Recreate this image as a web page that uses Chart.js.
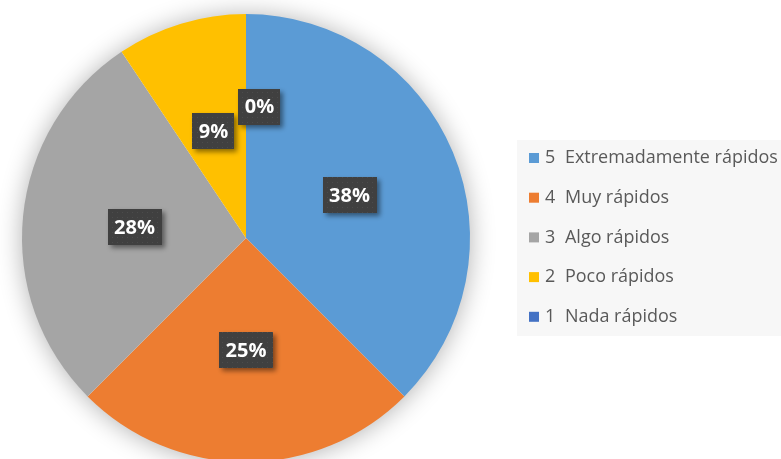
<!DOCTYPE html>
<html>
<head>
<meta charset="utf-8">
<script src="https://cdn.jsdelivr.net/npm/chart.js@4/dist/chart.umd.min.js"></script>
<style>
html,body{margin:0;padding:0;background:#fff;overflow:hidden;}
#wrap{position:relative;width:781px;height:462px;}
</style>
</head>
<body>
<div id="wrap"><canvas id="c"></canvas></div>
<script>
// ---- data ----
const categoryNumbers = ["5", "4", "3", "2", "1"];
const categoryNames = ["Extremadamente rápidos", "Muy rápidos", "Algo rápidos", "Poco rápidos", "Nada rápidos"];
const responses = [12, 8, 9, 3, 0];
const sliceColors = ["#5B9BD5", "#ED7D31", "#A5A5A5", "#FFC000", "#4472C4"];

const total = responses.reduce((a, b) => a + b, 0);
const percentLabels = responses.map(v => Math.round(v / total * 100) + "%");
const labels = categoryNumbers.map((n, i) => n + "  " + categoryNames[i]);

// dotted dark pattern for data label boxes
function makePattern(ctx) {
  const p = document.createElement("canvas");
  p.width = 5; p.height = 5;
  const pc = p.getContext("2d");
  pc.fillStyle = "#404040";
  pc.fillRect(0, 0, 5, 5);
  pc.fillStyle = "#4c4c4c";
  pc.fillRect(2, 2, 1, 1);
  return ctx.createPattern(p, "repeat");
}

const pieShadow = {
  id: "pieShadow",
  beforeDatasetsDraw(chart) {
    const arc = chart.getDatasetMeta(0).data[0];
    if (!arc) return;
    const ctx = chart.ctx;
    ctx.save();
    ctx.shadowColor = "rgba(0,0,0,0.33)";
    ctx.shadowBlur = 26;
    ctx.shadowOffsetX = 0;
    ctx.shadowOffsetY = 1;
    ctx.fillStyle = "#ffffff";
    ctx.beginPath();
    ctx.arc(arc.x, arc.y, arc.outerRadius - 1, 0, Math.PI * 2);
    ctx.fill();
    ctx.restore();
  }
};

const boxLabels = {
  id: "boxLabels",
  afterDatasetsDraw(chart, args, opts) {
    const ctx = chart.ctx;
    const meta = chart.getDatasetMeta(0);
    const pattern = makePattern(ctx);
    ctx.save();
    ctx.font = "bold 20px 'Open Sans'";
    ctx.textAlign = "center";
    ctx.textBaseline = "middle";
    meta.data.forEach((arc, i) => {
      const pt = arc.getCenterPoint();
      let x = pt.x, y = pt.y;
      if (responses[i] === 0) { x += opts.zeroShift.dx; y += opts.zeroShift.dy; }
      const txt = percentLabels[i];
      const w = ctx.measureText(txt).width + 13;
      const h = 36;
      ctx.save();
      ctx.shadowColor = "rgba(0,0,0,0.45)";
      ctx.shadowBlur = 5;
      ctx.shadowOffsetX = 3;
      ctx.shadowOffsetY = 3;
      ctx.fillStyle = pattern;
      ctx.fillRect(Math.round(x - w / 2), Math.round(y - h / 2), Math.round(w), h);
      ctx.restore();
      ctx.fillStyle = "#ffffff";
      ctx.fillText(txt, x, y + 1);
    });
    ctx.restore();
  }
};

const sideLegend = {
  id: "sideLegend",
  afterDraw(chart, args, o) {
    const ctx = chart.ctx;
    ctx.save();
    ctx.fillStyle = "#F7F7F7";
    ctx.fillRect(o.left, o.top, o.width, o.height);
    // fit text size to reference width of longest label
    let size = 20;
    ctx.font = size + "px 'Open Sans'";
    const wLong = ctx.measureText(categoryNames[0]).width;
    size = size * o.longestWidth / wLong;
    ctx.font = size.toFixed(2) + "px 'Open Sans'";
    ctx.textBaseline = "middle";
    ctx.textAlign = "left";
    categoryNumbers.forEach((n, i) => {
      const cy = o.firstY + i * o.spacing;
      ctx.fillStyle = sliceColors[i];
      ctx.fillRect(o.boxX, cy - 5, 10, 10);
      ctx.fillStyle = "#595959";
      ctx.fillText(n, o.numX, cy);
      ctx.fillText(categoryNames[i], o.textX, cy);
    });
    ctx.restore();
  }
};

new Chart(document.getElementById("c"), {
  type: "pie",
  data: {
    labels: labels,
    datasets: [{
      data: responses,
      backgroundColor: sliceColors,
      borderWidth: 0
    }]
  },
  options: {
    responsive: true,
    maintainAspectRatio: false,
    animation: false,
    layout: { padding: { left: 22, right: 311, top: 14, bottom: 0 } },
    plugins: {
      legend: { display: false },
      tooltip: { enabled: false },
      boxLabels: { zeroShift: { dx: 13.5, dy: -19.5 } },
      sideLegend: {
        left: 517, top: 140, width: 280, height: 196,
        boxX: 529, numX: 545, textX: 565,
        firstY: 158, spacing: 39.7, longestWidth: 213
      }
    }
  },
  plugins: [pieShadow, boxLabels, sideLegend]
});
</script>
</body>
</html>
